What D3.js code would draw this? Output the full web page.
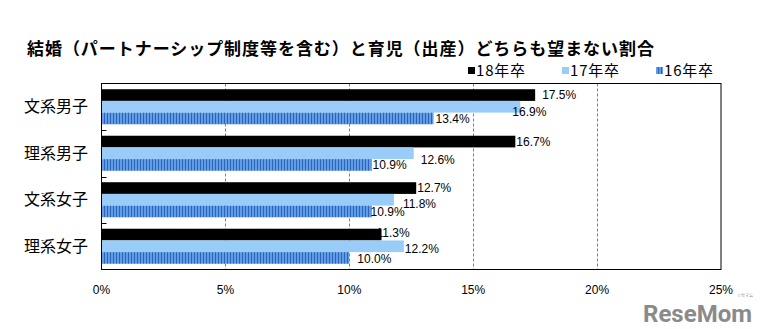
<!DOCTYPE html>
<html>
<head>
<meta charset="utf-8">
<script src="https://cdn.jsdelivr.net/npm/d3@7"></script>
<style>
  html, body { margin: 0; padding: 0; background: #ffffff; }
  svg { display: block; }
</style>
</head>
<body>
<script>
// Share of students who want neither marriage nor children, by course and graduation year
const categories = ["文系男子", "理系男子", "文系女子", "理系女子"];
const seriesNames = ["18年卒", "17年卒", "16年卒"];
const grad18 = [17.5, 16.7, 12.7, 11.3];
const grad17 = [16.9, 12.6, 11.8, 12.2];
const grad16 = [13.4, 10.9, 10.9, 10.0];
const xTicks = [0, 5, 10, 15, 20, 25];
const titleText = "結婚（パートナーシップ制度等を含む）と育児（出産）どちらも望まない割合";

// Hand-placed nudges for the value labels [dx, dy], per series then category
const labelNudge = [
  [[6, 0], [0, 0], [0, 0], [-6, -2]],
  [[-9, 5], [6, 6], [8, 4], [0, 2]],
  [[1, 0], [0, 0], [-2, 0], [7, 1]]
];

const W = 762, H = 329;
const plot = { left: 101.5, right: 721, top: 83.5, bottom: 269.5 };
const jp = "'Noto Sans CJK JP', 'Noto Sans', sans-serif";
const num = "'Liberation Sans', Arial, sans-serif";

const svg = d3.select("body").append("svg")
  .attr("width", W).attr("height", H);

const defs = svg.append("defs");
const pat = defs.append("pattern")
  .attr("id", "stripes")
  .attr("patternUnits", "userSpaceOnUse")
  .attr("width", 3).attr("height", 10);
pat.append("rect").attr("width", 3).attr("height", 10).attr("fill", "#5f9de6");
pat.append("rect").attr("x", 2).attr("width", 1).attr("height", 10).attr("fill", "#2e63b8");

const fills = ["#000000", "#99ccf8", "url(#stripes)"];

const x = d3.scaleLinear().domain([0, 25]).range([plot.left, plot.right]);
const y0 = d3.scaleBand().domain(categories).range([plot.top, plot.bottom]).paddingInner(0);
const y1 = d3.scaleBand().domain(seriesNames).range([0, y0.bandwidth()]).paddingInner(0).paddingOuter(0.49);

// Title
svg.append("text")
  .attr("x", 27).attr("y", 55)
  .attr("font-family", jp).attr("font-size", 17).attr("font-weight", "bold")
  .attr("letter-spacing", 0.95)
  .attr("fill", "#000")
  .text(titleText);

// Dashed vertical gridlines
svg.append("g").selectAll("line")
  .data(xTicks.filter(t => t > 0 && t < 25))
  .join("line")
  .attr("x1", d => Math.round(x(d)) + 0.5).attr("x2", d => Math.round(x(d)) + 0.5)
  .attr("y1", plot.top).attr("y2", plot.bottom)
  .attr("stroke", "#7f7f7f").attr("stroke-width", 1)
  .attr("stroke-dasharray", "3,2");

// Bars
const values = [grad18, grad17, grad16];
const barData = [];
seriesNames.forEach((s, si) => {
  categories.forEach((c, ci) => {
    barData.push({ s, si, c, ci, v: values[si][ci] });
  });
});

svg.append("g").selectAll("rect")
  .data(barData)
  .join("rect")
  .attr("x", x(0))
  .attr("y", d => y0(d.c) + y1(d.s))
  .attr("width", d => x(d.v) - x(0))
  .attr("height", y1.bandwidth())
  .attr("fill", d => fills[d.si]);

// Plot frame
svg.append("rect")
  .attr("x", plot.left).attr("y", plot.top)
  .attr("width", plot.right - plot.left).attr("height", plot.bottom - plot.top)
  .attr("fill", "none").attr("stroke", "#000").attr("stroke-width", 1);

// Category separator ticks on the left axis
svg.append("g").selectAll("line")
  .data(categories.slice(1))
  .join("line")
  .attr("x1", plot.left).attr("x2", plot.left + 5)
  .attr("y1", d => Math.round(y0(d)) + 0.5).attr("y2", d => Math.round(y0(d)) + 0.5)
  .attr("stroke", "#000");

// Category labels
svg.append("g").selectAll("text")
  .data(categories)
  .join("text")
  .attr("x", 88)
  .attr("y", d => y0(d) + y0.bandwidth() / 2)
  .attr("dy", "0.35em")
  .attr("text-anchor", "end")
  .attr("font-family", jp).attr("font-size", 16)
  .attr("fill", "#000")
  .text(d => d);

// X tick labels
svg.append("g").selectAll("text")
  .data(xTicks)
  .join("text")
  .attr("x", d => x(d))
  .attr("y", 294)
  .attr("text-anchor", "middle")
  .attr("font-family", num).attr("font-size", 12)
  .attr("fill", "#000")
  .text(d => d + "%");

// Value labels
svg.append("g").selectAll("text")
  .data(barData)
  .join("text")
  .attr("x", d => x(d.v) + 1 + labelNudge[d.si][d.ci][0])
  .attr("y", d => y0(d.c) + y1(d.s) + y1.bandwidth() / 2 + labelNudge[d.si][d.ci][1])
  .attr("dy", "0.36em")
  .attr("font-family", num).attr("font-size", 12)
  .attr("fill", "#000")
  .text(d => d3.format(".1f")(d.v) + "%");

// Legend
const legendX = [468, 562, 656];
const lg = svg.append("g").selectAll("g")
  .data(seriesNames)
  .join("g")
  .attr("transform", (d, i) => `translate(${legendX[i]},71)`);
lg.append("rect")
  .attr("x", 0).attr("y", -4).attr("width", 7).attr("height", 7)
  .attr("fill", (d, i) => fills[i]);
lg.append("text")
  .attr("x", 8).attr("y", 0).attr("dy", "0.36em")
  .attr("font-family", jp).attr("font-size", 15)
  .attr("letter-spacing", 0.8)
  .attr("fill", "#000")
  .text(d => d);

// Site mark
svg.append("text")
  .attr("x", 752).attr("y", 322)
  .attr("text-anchor", "end")
  .attr("font-family", "'Liberation Sans Narrow', 'Roboto', sans-serif")
  .attr("font-weight", "bold").attr("font-size", 24)
  .attr("fill", "#8a8a8a")
  .text("ReseMom");
svg.append("text")
  .attr("x", 753).attr("y", 297)
  .attr("text-anchor", "end")
  .attr("font-family", jp).attr("font-size", 4)
  .attr("fill", "#8a8a8a")
  .text("リセマム");
</script>
</body>
</html>
